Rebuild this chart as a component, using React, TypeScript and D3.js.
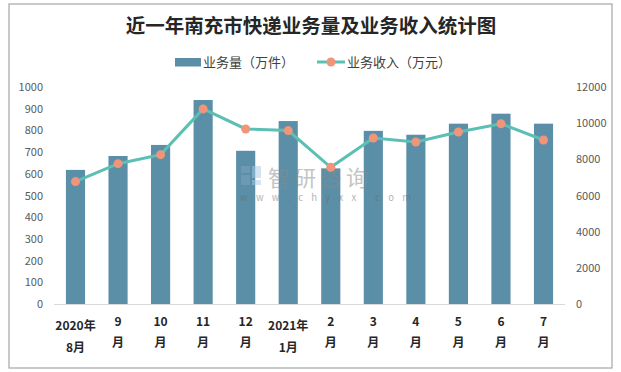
import React from 'react';
import * as d3 from 'd3';

const months = ['2020年8月', '9月', '10月', '11月', '12月', '2021年1月', '2月', '3月', '4月', '5月', '6月', '7月'];
const labelTop = ['2020年', '9', '10', '11', '12', '2021年', '2', '3', '4', '5', '6', '7'];
const labelBottom = ['8月', '月', '月', '月', '月', '1月', '月', '月', '月', '月', '月', '月'];
const volume = [618, 682, 733, 940, 706, 843, 625, 798, 780, 831, 877, 831];
const revenue = [6770, 7760, 8260, 10790, 9680, 9590, 7560, 9180, 8960, 9510, 9970, 9070];
const leftTicks = [0, 100, 200, 300, 400, 500, 600, 700, 800, 900, 1000];
const rightTicks = [0, 2000, 4000, 6000, 8000, 10000, 12000];

const W = 621, H = 372;
const font = '"Noto Sans CJK SC", "Noto Sans", sans-serif';

export default function App() {
  const x = d3.scaleBand().domain(months).range([54, 565]).paddingInner(0.55).paddingOuter(0.28);
  const yL = d3.scaleLinear().domain([0, 1000]).range([304, 87]);
  const yR = d3.scaleLinear().domain([0, 12000]).range([304, 87]);
  const cx = (m: string) => (x(m) as number) + x.bandwidth() / 2;

  const line = d3.line<number>()
    .x((d, i) => cx(months[i]))
    .y(d => yR(d));

  return (
    <svg width={W} height={H} style={{ position: 'fixed', left: 0, top: 0, background: '#fff' }}>
      <rect x={9} y={4} width={603} height={364} fill="#fff" stroke="#A6A6A6" strokeWidth={1.2} />
      <text x={311} y={33} textAnchor="middle" fontFamily={font} fontWeight="bold" fontSize={19.5} fill="#262626">
        近一年南充市快递业务量及业务收入统计图
      </text>

      {/* legend */}
      <rect x={175} y={58} width={26} height={8.5} fill="#5B8FA8" />
      <text x={203} y={67} fontFamily={font} fontSize={13} fill="#404040">业务量（万件）</text>
      <line x1={317} x2={345} y1={62} y2={62} stroke="#5CBFB4" strokeWidth={3} />
      <circle cx={331} cy={62} r={4.5} fill="#F0957A" />
      <text x={347} y={67} fontFamily={font} fontSize={13} fill="#404040">业务收入（万元）</text>

      {/* axes labels */}
      {leftTicks.map(t => (
        <text key={'l' + t} x={43} y={yL(t) + 4} textAnchor="end" fontFamily={font} fontSize={11} fill="#595959">{t}</text>
      ))}
      {rightTicks.map(t => (
        <text key={'r' + t} x={576} y={yR(t) + 4} fontFamily={font} fontSize={11} fill="#595959">{t}</text>
      ))}

      {/* bars */}
      {months.map((m, i) => (
        <rect key={m} x={x(m)} y={yL(volume[i])} width={x.bandwidth()} height={304 - yL(volume[i])} fill="#5B8FA8" />
      ))}
      <line x1={54} x2={565} y1={304.5} y2={304.5} stroke="#D9D9D9" strokeWidth={1} />

      {/* watermark, drawn over the bars */}
      <g opacity={0.5}>
        <rect x={241} y={166} width={9} height={7} fill="#7FA3C4" />
        <rect x={241} y={175} width={9} height={10} fill="#7FA3C4" />
        <rect x={252} y={166} width={9} height={12} fill="#A9CBE6" />
        <rect x={252} y={180} width={9} height={5} fill="#A9CBE6" />
        <text x={268} y={186} fontFamily={font} fontSize={22} fill="#8A8A8A" letterSpacing={4}>智研咨询</text>
        <text x={240} y={201} fontFamily={font} fontSize={9.5} fill="#6A6A6A" letterSpacing={8.3}>www.chyxx.com</text>
      </g>

      {/* revenue line */}
      <path d={line(revenue) || ''} fill="none" stroke="#5CBFB4" strokeWidth={3} />
      {revenue.map((v, i) => (
        <circle key={'p' + i} cx={cx(months[i])} cy={yR(v)} r={4.5} fill="#F0957A" />
      ))}

      {/* x labels */}
      {months.map((m, i) => {
        const long = labelTop[i].length > 2;
        return (
          <g key={'x' + m} fontFamily={font} fontWeight="bold" fontSize={12} fill="#262626" textAnchor="middle">
            <text x={cx(m)} y={long ? 330 : 326}>{labelTop[i]}</text>
            <text x={cx(m)} y={long ? 352 : 347}>{labelBottom[i]}</text>
          </g>
        );
      })}
    </svg>
  );
}
